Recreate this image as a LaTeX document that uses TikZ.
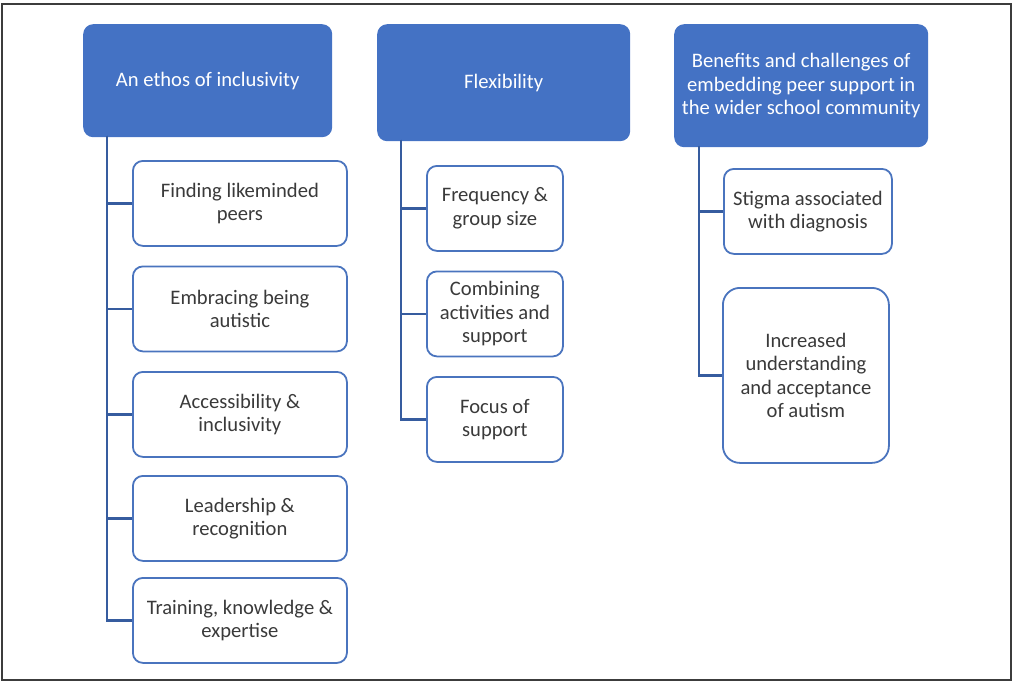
\documentclass[tikz,border=0pt]{standalone}
\usepackage{fontspec}
\setmainfont{Carlito}
\definecolor{hdrblue}{HTML}{4472C4}
\definecolor{bordblue}{HTML}{4A74BE}
\definecolor{connblue}{HTML}{365C9F}
\definecolor{txtgray}{HTML}{3A3A3A}
\definecolor{framegray}{HTML}{3C3C3C}
\begin{document}
\begin{tikzpicture}[x=1pt,y=-1pt,
  hdr/.style={draw=none, fill=hdrblue, rounded corners=10pt, anchor=north west,
    text=white, align=center, inner sep=0pt, font=\fontsize{20.6}{23.5}\selectfont},
  child/.style={draw=bordblue, line width=1.8pt, fill=white, rounded corners=10pt, anchor=north west,
    text=txtgray, align=center, inner sep=0pt, font=\fontsize{20.6}{23.5}\selectfont},
  conn/.style={draw=connblue, line width=2.6pt}]
\useasboundingbox (0,0) rectangle (1017,682);
\draw[framegray, line width=1.5pt] (2,4) rectangle (1011,680);

% column 1
\node[hdr, minimum width=249pt, minimum height=113pt] (h1) at (83,24) {An ethos of inclusivity};
\coordinate (t1) at (107,136);
\node[child, minimum width=214pt, minimum height=85pt] (c11) at (132,160) {Finding likeminded\\peers};
\node[child, minimum width=214pt, minimum height=85pt] (c12) at (132,265.5) {Embracing being\\autistic};
\node[child, minimum width=214pt, minimum height=85pt] (c13) at (132,371) {Accessibility \&\\inclusivity};
\node[child, minimum width=214pt, minimum height=85pt] (c14) at (132,475) {Leadership \&\\recognition};
\node[child, minimum width=214pt, minimum height=85pt] (c15) at (132,577) {Training, knowledge \&\\expertise};
\foreach \i in {1,...,5} \draw[conn] (t1) |- (c1\i.west);

% column 2
\node[hdr, minimum width=253pt, minimum height=117pt] (h2) at (377,24) {Flexibility};
\coordinate (t2) at (401,140);
\node[child, minimum width=136pt, minimum height=85pt] (c21) at (426,165) {Frequency \&\\group size};
\node[child, minimum width=136pt, minimum height=85pt] (c22) at (426,270.5) {Combining\\activities and\\support};
\node[child, minimum width=136pt, minimum height=85pt] (c23) at (426,376) {Focus of\\support};
\foreach \i in {1,...,3} \draw[conn] (t2) |- (c2\i.west);

% column 3
\node[hdr, minimum width=254pt, minimum height=123pt] (h3) at (674,24) {Benefits and challenges of\\embedding peer support in\\the wider school community};
\coordinate (t3) at (699,146);
\node[child, minimum width=168pt, minimum height=85pt] (c31) at (723,168) {Stigma associated\\with diagnosis};
\node[child, minimum width=166pt, minimum height=175pt, rounded corners=17pt] (c32) at (722,287) {Increased\\understanding\\and acceptance\\of autism};
\foreach \i in {1,2} \draw[conn] (t3) |- (c3\i.west);
\end{tikzpicture}
\end{document}
